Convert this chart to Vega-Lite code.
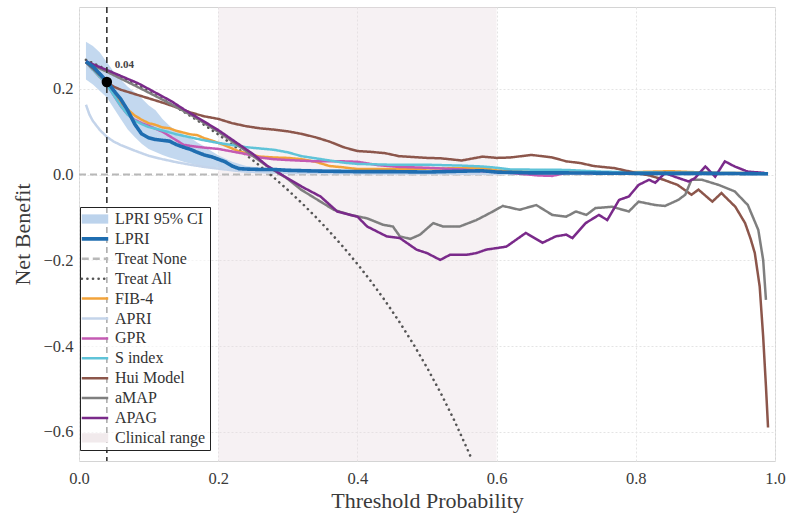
{
  "$schema": "https://vega.github.io/schema/vega-lite/v6.json",
  "width": 696,
  "height": 454,
  "autosize": "none",
  "padding": {"left": 79, "top": 7, "right": 13, "bottom": 52},
  "background": "white",
  "config": {
    "view": {"stroke": "#d4d4d4", "strokeWidth": 1},
    "axis": {
      "labelFont": "Liberation Serif", "labelFontSize": 16.5, "labelColor": "#3a3a3a",
      "titleFont": "Liberation Serif", "titleFontSize": 22, "titleFontWeight": "normal", "titleColor": "#3a3a3a",
      "domain": false, "ticks": false, "grid": true, "gridColor": "#e4e4e4", "gridDash": [2, 2], "gridWidth": 1
    },
    "legend": {
      "labelFont": "Liberation Serif", "labelFontSize": 16, "labelColor": "#333"
    }
  },
  "datasets": {
    "lpri": [
      {"s":"LPRI","x":0.01,"y":0.264},{"s":"LPRI","x":0.02,"y":0.252},{"s":"LPRI","x":0.03,"y":0.235},{"s":"LPRI","x":0.04,"y":0.218},
      {"s":"LPRI","x":0.05,"y":0.196},{"s":"LPRI","x":0.06,"y":0.176},{"s":"LPRI","x":0.07,"y":0.150},{"s":"LPRI","x":0.08,"y":0.118},
      {"s":"LPRI","x":0.09,"y":0.095},{"s":"LPRI","x":0.10,"y":0.086},{"s":"LPRI","x":0.11,"y":0.082},{"s":"LPRI","x":0.12,"y":0.080},
      {"s":"LPRI","x":0.13,"y":0.078},{"s":"LPRI","x":0.14,"y":0.070},{"s":"LPRI","x":0.15,"y":0.064},{"s":"LPRI","x":0.16,"y":0.059},
      {"s":"LPRI","x":0.17,"y":0.052},{"s":"LPRI","x":0.18,"y":0.046},{"s":"LPRI","x":0.19,"y":0.042},{"s":"LPRI","x":0.20,"y":0.036},
      {"s":"LPRI","x":0.21,"y":0.030},{"s":"LPRI","x":0.22,"y":0.020},{"s":"LPRI","x":0.23,"y":0.014},{"s":"LPRI","x":0.24,"y":0.013},
      {"s":"LPRI","x":0.26,"y":0.012},{"s":"LPRI","x":0.28,"y":0.012},{"s":"LPRI","x":0.30,"y":0.010},{"s":"LPRI","x":0.35,"y":0.008},
      {"s":"LPRI","x":0.40,"y":0.007},{"s":"LPRI","x":0.45,"y":0.007},{"s":"LPRI","x":0.50,"y":0.006},{"s":"LPRI","x":0.55,"y":0.008},
      {"s":"LPRI","x":0.58,"y":0.009},{"s":"LPRI","x":0.60,"y":0.006},{"s":"LPRI","x":0.65,"y":0.004},{"s":"LPRI","x":0.70,"y":0.004},
      {"s":"LPRI","x":0.80,"y":0.003},{"s":"LPRI","x":0.90,"y":0.003},{"s":"LPRI","x":0.99,"y":0.002}
    ],
    "ci": [
      {"x":0.01,"lo":0.222,"hi":0.310},{"x":0.02,"lo":0.210,"hi":0.300},{"x":0.03,"lo":0.195,"hi":0.285},{"x":0.04,"lo":0.180,"hi":0.262},
      {"x":0.05,"lo":0.155,"hi":0.240},{"x":0.06,"lo":0.130,"hi":0.222},{"x":0.07,"lo":0.105,"hi":0.205},{"x":0.08,"lo":0.088,"hi":0.192},
      {"x":0.09,"lo":0.072,"hi":0.178},{"x":0.10,"lo":0.060,"hi":0.162},{"x":0.11,"lo":0.053,"hi":0.150},{"x":0.12,"lo":0.046,"hi":0.130},
      {"x":0.13,"lo":0.040,"hi":0.114},{"x":0.14,"lo":0.035,"hi":0.102},{"x":0.15,"lo":0.030,"hi":0.094},{"x":0.16,"lo":0.026,"hi":0.086},
      {"x":0.17,"lo":0.022,"hi":0.075},{"x":0.18,"lo":0.019,"hi":0.066},{"x":0.19,"lo":0.017,"hi":0.055},{"x":0.20,"lo":0.016,"hi":0.045},
      {"x":0.22,"lo":0.012,"hi":0.030},{"x":0.24,"lo":0.008,"hi":0.020},{"x":0.26,"lo":0.004,"hi":0.016},{"x":0.30,"lo":0.002,"hi":0.014},
      {"x":0.40,"lo":0.001,"hi":0.012},{"x":0.60,"lo":0.000,"hi":0.011},{"x":0.80,"lo":0.000,"hi":0.008},{"x":0.99,"lo":0.000,"hi":0.005}
    ],
    "none": [
      {"s":"Treat None","x":0.0,"y":0},{"s":"Treat None","x":0.99,"y":0}
    ],
    "all": [
      {"s":"Treat All","x":0.01,"y":0.2677},{"s":"Treat All","x":0.04,"y":0.2448},{"s":"Treat All","x":0.06,"y":0.2287},
      {"s":"Treat All","x":0.08,"y":0.2120},{"s":"Treat All","x":0.10,"y":0.1944},{"s":"Treat All","x":0.12,"y":0.1761},
      {"s":"Treat All","x":0.14,"y":0.1570},{"s":"Treat All","x":0.16,"y":0.1369},{"s":"Treat All","x":0.18,"y":0.1159},
      {"s":"Treat All","x":0.20,"y":0.0938},{"s":"Treat All","x":0.22,"y":0.0705},{"s":"Treat All","x":0.24,"y":0.0461},
      {"s":"Treat All","x":0.26,"y":0.0203},{"s":"Treat All","x":0.28,"y":-0.0069},{"s":"Treat All","x":0.30,"y":-0.0357},
      {"s":"Treat All","x":0.32,"y":-0.0662},{"s":"Treat All","x":0.34,"y":-0.0985},{"s":"Treat All","x":0.36,"y":-0.1328},
      {"s":"Treat All","x":0.38,"y":-0.1694},{"s":"Treat All","x":0.40,"y":-0.2083},{"s":"Treat All","x":0.42,"y":-0.2500},
      {"s":"Treat All","x":0.44,"y":-0.2946},{"s":"Treat All","x":0.46,"y":-0.3426},{"s":"Treat All","x":0.48,"y":-0.3942},
      {"s":"Treat All","x":0.50,"y":-0.4500},{"s":"Treat All","x":0.52,"y":-0.5104},{"s":"Treat All","x":0.54,"y":-0.5761},
      {"s":"Treat All","x":0.56,"y":-0.6477},{"s":"Treat All","x":0.565,"y":-0.6667}
    ],
    "models": [
      {"s":"FIB-4","x":0.01,"y":0.262},{"s":"FIB-4","x":0.02,"y":0.245},{"s":"FIB-4","x":0.03,"y":0.228},{"s":"FIB-4","x":0.04,"y":0.212},
      {"s":"FIB-4","x":0.05,"y":0.190},{"s":"FIB-4","x":0.06,"y":0.168},{"s":"FIB-4","x":0.07,"y":0.152},{"s":"FIB-4","x":0.08,"y":0.138},
      {"s":"FIB-4","x":0.09,"y":0.128},{"s":"FIB-4","x":0.10,"y":0.120},{"s":"FIB-4","x":0.11,"y":0.116},{"s":"FIB-4","x":0.12,"y":0.110},
      {"s":"FIB-4","x":0.13,"y":0.108},{"s":"FIB-4","x":0.14,"y":0.102},{"s":"FIB-4","x":0.15,"y":0.098},{"s":"FIB-4","x":0.16,"y":0.094},
      {"s":"FIB-4","x":0.17,"y":0.092},{"s":"FIB-4","x":0.18,"y":0.085},{"s":"FIB-4","x":0.19,"y":0.080},{"s":"FIB-4","x":0.20,"y":0.074},
      {"s":"FIB-4","x":0.21,"y":0.068},{"s":"FIB-4","x":0.22,"y":0.061},{"s":"FIB-4","x":0.23,"y":0.054},{"s":"FIB-4","x":0.24,"y":0.050},
      {"s":"FIB-4","x":0.25,"y":0.046},{"s":"FIB-4","x":0.26,"y":0.042},{"s":"FIB-4","x":0.28,"y":0.040},{"s":"FIB-4","x":0.30,"y":0.039},
      {"s":"FIB-4","x":0.32,"y":0.036},{"s":"FIB-4","x":0.34,"y":0.030},{"s":"FIB-4","x":0.36,"y":0.020},{"s":"FIB-4","x":0.38,"y":0.017},
      {"s":"FIB-4","x":0.40,"y":0.013},{"s":"FIB-4","x":0.45,"y":0.013},{"s":"FIB-4","x":0.50,"y":0.014},{"s":"FIB-4","x":0.55,"y":0.015},
      {"s":"FIB-4","x":0.58,"y":0.016},{"s":"FIB-4","x":0.60,"y":0.010},{"s":"FIB-4","x":0.65,"y":0.006},{"s":"FIB-4","x":0.70,"y":0.005},
      {"s":"FIB-4","x":0.80,"y":0.006},{"s":"FIB-4","x":0.85,"y":0.008},{"s":"FIB-4","x":0.88,"y":0.006},{"s":"FIB-4","x":0.92,"y":0.004},
      {"s":"FIB-4","x":0.99,"y":0.003},

      {"s":"APRI","x":0.01,"y":0.163},{"s":"APRI","x":0.015,"y":0.140},{"s":"APRI","x":0.02,"y":0.125},{"s":"APRI","x":0.03,"y":0.104},
      {"s":"APRI","x":0.04,"y":0.088},{"s":"APRI","x":0.05,"y":0.077},{"s":"APRI","x":0.06,"y":0.069},{"s":"APRI","x":0.08,"y":0.056},
      {"s":"APRI","x":0.10,"y":0.044},{"s":"APRI","x":0.12,"y":0.036},{"s":"APRI","x":0.14,"y":0.029},{"s":"APRI","x":0.16,"y":0.023},
      {"s":"APRI","x":0.18,"y":0.018},{"s":"APRI","x":0.20,"y":0.014},{"s":"APRI","x":0.22,"y":0.010},{"s":"APRI","x":0.24,"y":0.007},
      {"s":"APRI","x":0.26,"y":0.006},{"s":"APRI","x":0.30,"y":0.004},{"s":"APRI","x":0.40,"y":0.003},{"s":"APRI","x":0.60,"y":0.002},
      {"s":"APRI","x":0.80,"y":0.002},{"s":"APRI","x":0.99,"y":0.001},

      {"s":"GPR","x":0.01,"y":0.262},{"s":"GPR","x":0.02,"y":0.245},{"s":"GPR","x":0.03,"y":0.228},{"s":"GPR","x":0.04,"y":0.210},
      {"s":"GPR","x":0.05,"y":0.185},{"s":"GPR","x":0.06,"y":0.160},{"s":"GPR","x":0.07,"y":0.140},{"s":"GPR","x":0.08,"y":0.128},
      {"s":"GPR","x":0.09,"y":0.120},{"s":"GPR","x":0.10,"y":0.114},{"s":"GPR","x":0.12,"y":0.100},{"s":"GPR","x":0.13,"y":0.090},
      {"s":"GPR","x":0.14,"y":0.080},{"s":"GPR","x":0.15,"y":0.070},{"s":"GPR","x":0.16,"y":0.067},{"s":"GPR","x":0.18,"y":0.063},
      {"s":"GPR","x":0.20,"y":0.060},{"s":"GPR","x":0.22,"y":0.054},{"s":"GPR","x":0.24,"y":0.048},{"s":"GPR","x":0.26,"y":0.040},
      {"s":"GPR","x":0.28,"y":0.036},{"s":"GPR","x":0.30,"y":0.034},{"s":"GPR","x":0.34,"y":0.031},{"s":"GPR","x":0.38,"y":0.031},
      {"s":"GPR","x":0.40,"y":0.030},{"s":"GPR","x":0.43,"y":0.022},{"s":"GPR","x":0.46,"y":0.018},{"s":"GPR","x":0.50,"y":0.016},
      {"s":"GPR","x":0.55,"y":0.012},{"s":"GPR","x":0.58,"y":0.008},{"s":"GPR","x":0.62,"y":0.004},{"s":"GPR","x":0.66,"y":-0.002},
      {"s":"GPR","x":0.68,"y":-0.003},{"s":"GPR","x":0.70,"y":0.004},{"s":"GPR","x":0.75,"y":0.003},{"s":"GPR","x":0.85,"y":0.003},
      {"s":"GPR","x":0.99,"y":0.002},

      {"s":"S index","x":0.01,"y":0.262},{"s":"S index","x":0.02,"y":0.245},{"s":"S index","x":0.03,"y":0.228},{"s":"S index","x":0.04,"y":0.210},
      {"s":"S index","x":0.05,"y":0.185},{"s":"S index","x":0.06,"y":0.160},{"s":"S index","x":0.07,"y":0.140},{"s":"S index","x":0.08,"y":0.126},
      {"s":"S index","x":0.09,"y":0.118},{"s":"S index","x":0.10,"y":0.111},{"s":"S index","x":0.12,"y":0.103},{"s":"S index","x":0.14,"y":0.094},
      {"s":"S index","x":0.16,"y":0.087},{"s":"S index","x":0.18,"y":0.080},{"s":"S index","x":0.20,"y":0.074},{"s":"S index","x":0.22,"y":0.069},
      {"s":"S index","x":0.24,"y":0.064},{"s":"S index","x":0.26,"y":0.061},{"s":"S index","x":0.28,"y":0.058},{"s":"S index","x":0.30,"y":0.052},
      {"s":"S index","x":0.32,"y":0.043},{"s":"S index","x":0.34,"y":0.038},{"s":"S index","x":0.36,"y":0.033},{"s":"S index","x":0.38,"y":0.028},
      {"s":"S index","x":0.40,"y":0.025},{"s":"S index","x":0.45,"y":0.023},{"s":"S index","x":0.50,"y":0.023},{"s":"S index","x":0.55,"y":0.021},
      {"s":"S index","x":0.58,"y":0.019},{"s":"S index","x":0.60,"y":0.016},{"s":"S index","x":0.62,"y":0.012},{"s":"S index","x":0.70,"y":0.011},
      {"s":"S index","x":0.75,"y":0.007},{"s":"S index","x":0.80,"y":0.005},{"s":"S index","x":0.99,"y":0.003},

      {"s":"Hui Model","x":0.01,"y":0.262},{"s":"Hui Model","x":0.02,"y":0.248},{"s":"Hui Model","x":0.03,"y":0.232},{"s":"Hui Model","x":0.04,"y":0.216},
      {"s":"Hui Model","x":0.05,"y":0.205},{"s":"Hui Model","x":0.06,"y":0.198},{"s":"Hui Model","x":0.08,"y":0.188},{"s":"Hui Model","x":0.10,"y":0.178},
      {"s":"Hui Model","x":0.12,"y":0.168},{"s":"Hui Model","x":0.14,"y":0.157},{"s":"Hui Model","x":0.16,"y":0.145},{"s":"Hui Model","x":0.18,"y":0.136},
      {"s":"Hui Model","x":0.20,"y":0.130},{"s":"Hui Model","x":0.22,"y":0.120},{"s":"Hui Model","x":0.24,"y":0.113},{"s":"Hui Model","x":0.26,"y":0.108},
      {"s":"Hui Model","x":0.28,"y":0.105},{"s":"Hui Model","x":0.30,"y":0.101},{"s":"Hui Model","x":0.32,"y":0.095},{"s":"Hui Model","x":0.34,"y":0.087},
      {"s":"Hui Model","x":0.36,"y":0.077},{"s":"Hui Model","x":0.38,"y":0.064},{"s":"Hui Model","x":0.40,"y":0.055},{"s":"Hui Model","x":0.42,"y":0.053},
      {"s":"Hui Model","x":0.44,"y":0.050},{"s":"Hui Model","x":0.46,"y":0.043},{"s":"Hui Model","x":0.48,"y":0.041},{"s":"Hui Model","x":0.50,"y":0.039},
      {"s":"Hui Model","x":0.52,"y":0.038},{"s":"Hui Model","x":0.55,"y":0.033},{"s":"Hui Model","x":0.58,"y":0.042},{"s":"Hui Model","x":0.60,"y":0.039},
      {"s":"Hui Model","x":0.62,"y":0.040},{"s":"Hui Model","x":0.65,"y":0.046},{"s":"Hui Model","x":0.68,"y":0.040},{"s":"Hui Model","x":0.70,"y":0.031},
      {"s":"Hui Model","x":0.72,"y":0.027},{"s":"Hui Model","x":0.74,"y":0.020},{"s":"Hui Model","x":0.77,"y":0.015},{"s":"Hui Model","x":0.80,"y":0.004},
      {"s":"Hui Model","x":0.82,"y":-0.002},{"s":"Hui Model","x":0.84,"y":-0.012},{"s":"Hui Model","x":0.86,"y":-0.024},{"s":"Hui Model","x":0.88,"y":-0.047},
      {"s":"Hui Model","x":0.89,"y":-0.035},{"s":"Hui Model","x":0.91,"y":-0.063},{"s":"Hui Model","x":0.923,"y":-0.043},{"s":"Hui Model","x":0.943,"y":-0.075},
      {"s":"Hui Model","x":0.957,"y":-0.113},{"s":"Hui Model","x":0.965,"y":-0.150},{"s":"Hui Model","x":0.971,"y":-0.183},{"s":"Hui Model","x":0.978,"y":-0.261},
      {"s":"Hui Model","x":0.983,"y":-0.378},{"s":"Hui Model","x":0.987,"y":-0.494},{"s":"Hui Model","x":0.99,"y":-0.590},

      {"s":"aMAP","x":0.01,"y":0.262},{"s":"aMAP","x":0.04,"y":0.240},{"s":"aMAP","x":0.08,"y":0.208},{"s":"aMAP","x":0.12,"y":0.175},
      {"s":"aMAP","x":0.16,"y":0.140},{"s":"aMAP","x":0.20,"y":0.100},{"s":"aMAP","x":0.24,"y":0.055},{"s":"aMAP","x":0.27,"y":0.020},
      {"s":"aMAP","x":0.30,"y":-0.010},{"s":"aMAP","x":0.319,"y":-0.035},{"s":"aMAP","x":0.343,"y":-0.059},{"s":"aMAP","x":0.366,"y":-0.082},
      {"s":"aMAP","x":0.39,"y":-0.094},{"s":"aMAP","x":0.414,"y":-0.102},{"s":"aMAP","x":0.437,"y":-0.117},{"s":"aMAP","x":0.451,"y":-0.121},
      {"s":"aMAP","x":0.461,"y":-0.144},{"s":"aMAP","x":0.476,"y":-0.150},{"s":"aMAP","x":0.49,"y":-0.140},{"s":"aMAP","x":0.509,"y":-0.113},
      {"s":"aMAP","x":0.523,"y":-0.121},{"s":"aMAP","x":0.547,"y":-0.121},{"s":"aMAP","x":0.571,"y":-0.106},{"s":"aMAP","x":0.59,"y":-0.090},
      {"s":"aMAP","x":0.609,"y":-0.073},{"s":"aMAP","x":0.633,"y":-0.082},{"s":"aMAP","x":0.657,"y":-0.071},{"s":"aMAP","x":0.68,"y":-0.094},
      {"s":"aMAP","x":0.70,"y":-0.098},{"s":"aMAP","x":0.714,"y":-0.086},{"s":"aMAP","x":0.729,"y":-0.094},{"s":"aMAP","x":0.742,"y":-0.078},
      {"s":"aMAP","x":0.766,"y":-0.075},{"s":"aMAP","x":0.79,"y":-0.086},{"s":"aMAP","x":0.804,"y":-0.063},{"s":"aMAP","x":0.828,"y":-0.071},
      {"s":"aMAP","x":0.842,"y":-0.073},{"s":"aMAP","x":0.861,"y":-0.059},{"s":"aMAP","x":0.871,"y":-0.047},{"s":"aMAP","x":0.88,"y":-0.012},
      {"s":"aMAP","x":0.895,"y":-0.012},{"s":"aMAP","x":0.919,"y":-0.024},{"s":"aMAP","x":0.942,"y":-0.039},{"s":"aMAP","x":0.961,"y":-0.071},
      {"s":"aMAP","x":0.976,"y":-0.129},{"s":"aMAP","x":0.983,"y":-0.199},{"s":"aMAP","x":0.987,"y":-0.292},

      {"s":"APAG","x":0.01,"y":0.264},{"s":"APAG","x":0.04,"y":0.244},{"s":"APAG","x":0.085,"y":0.213},{"s":"APAG","x":0.133,"y":0.171},
      {"s":"APAG","x":0.15,"y":0.153},{"s":"APAG","x":0.20,"y":0.104},{"s":"APAG","x":0.25,"y":0.048},{"s":"APAG","x":0.27,"y":0.021},
      {"s":"APAG","x":0.295,"y":-0.004},{"s":"APAG","x":0.32,"y":-0.028},{"s":"APAG","x":0.347,"y":-0.051},{"s":"APAG","x":0.371,"y":-0.086},
      {"s":"APAG","x":0.40,"y":-0.098},{"s":"APAG","x":0.414,"y":-0.121},{"s":"APAG","x":0.442,"y":-0.144},{"s":"APAG","x":0.461,"y":-0.148},
      {"s":"APAG","x":0.485,"y":-0.175},{"s":"APAG","x":0.50,"y":-0.183},{"s":"APAG","x":0.519,"y":-0.199},{"s":"APAG","x":0.533,"y":-0.187},
      {"s":"APAG","x":0.557,"y":-0.187},{"s":"APAG","x":0.571,"y":-0.183},{"s":"APAG","x":0.585,"y":-0.175},{"s":"APAG","x":0.614,"y":-0.168},
      {"s":"APAG","x":0.642,"y":-0.136},{"s":"APAG","x":0.666,"y":-0.159},{"s":"APAG","x":0.685,"y":-0.144},{"s":"APAG","x":0.70,"y":-0.140},
      {"s":"APAG","x":0.709,"y":-0.148},{"s":"APAG","x":0.728,"y":-0.113},{"s":"APAG","x":0.747,"y":-0.094},{"s":"APAG","x":0.759,"y":-0.106},
      {"s":"APAG","x":0.776,"y":-0.059},{"s":"APAG","x":0.79,"y":-0.051},{"s":"APAG","x":0.804,"y":-0.024},{"s":"APAG","x":0.819,"y":-0.012},
      {"s":"APAG","x":0.828,"y":-0.019},{"s":"APAG","x":0.842,"y":0.004},{"s":"APAG","x":0.856,"y":-0.005},{"s":"APAG","x":0.876,"y":-0.016},
      {"s":"APAG","x":0.885,"y":-0.008},{"s":"APAG","x":0.90,"y":0.019},{"s":"APAG","x":0.914,"y":-0.005},{"s":"APAG","x":0.928,"y":0.031},
      {"s":"APAG","x":0.942,"y":0.019},{"s":"APAG","x":0.961,"y":0.007},{"s":"APAG","x":0.985,"y":0.004}
    ]
  },
  "layer": [
    {
      "data": {"values": [{"a": 0.2, "b": 0.6}]},
      "mark": {"type": "rect", "color": "#e8dde0", "opacity": 0.4},
      "encoding": {"x": {"field": "a", "type": "quantitative"}, "x2": {"field": "b"}}
    },
    {
      "data": {"name": "ci"},
      "mark": {"type": "area", "color": "#b8d1ec", "opacity": 0.85},
      "encoding": {
        "x": {"field": "x", "type": "quantitative"},
        "y": {"field": "lo", "type": "quantitative"},
        "y2": {"field": "hi"}
      }
    },
    {
      "data": {"name": "none"},
      "mark": {"type": "line", "clip": true, "strokeWidth": 2},
      "encoding": {
        "x": {"field": "x", "type": "quantitative"},
        "y": {"field": "y", "type": "quantitative"},
        "color": {"field": "s", "type": "nominal"},
        "strokeDash": {"field": "s", "type": "nominal"}
      }
    },
    {
      "data": {"name": "all"},
      "mark": {"type": "line", "clip": true, "strokeWidth": 2.6, "strokeCap": "round"},
      "encoding": {
        "x": {"field": "x", "type": "quantitative"},
        "y": {"field": "y", "type": "quantitative"},
        "color": {"field": "s", "type": "nominal"},
        "strokeDash": {"field": "s", "type": "nominal"}
      }
    },
    {
      "data": {"name": "models"},
      "mark": {"type": "line", "clip": true, "strokeWidth": 2.5},
      "encoding": {
        "x": {"field": "x", "type": "quantitative"},
        "y": {"field": "y", "type": "quantitative"},
        "color": {"field": "s", "type": "nominal"},
        "strokeDash": {"field": "s", "type": "nominal"}
      }
    },
    {
      "data": {"name": "lpri"},
      "mark": {"type": "line", "clip": true, "strokeWidth": 3.6},
      "encoding": {
        "x": {
          "field": "x", "type": "quantitative",
          "scale": {"domain": [0, 1], "nice": false, "zero": false},
          "axis": {"title": "Threshold Probability", "values": [0, 0.2, 0.4, 0.6, 0.8, 1.0], "format": ".1f", "labelFlush": false, "labelPadding": 9, "titlePadding": 4}
        },
        "y": {
          "field": "y", "type": "quantitative",
          "scale": {"domain": [-0.668, 0.391], "nice": false, "zero": false},
          "axis": {"title": "Net Benefit", "values": [-0.6, -0.4, -0.2, 0, 0.2], "format": ".1f", "labelPadding": 6, "titlePadding": 9}
        },
        "color": {
          "field": "s", "type": "nominal",
          "scale": {
            "domain": ["LPRI 95% CI", "LPRI", "Treat None", "Treat All", "FIB-4", "APRI", "GPR", "S index", "Hui Model", "aMAP", "APAG", "Clinical range"],
            "range": ["#bcd3ec", "#1f6db0", "#b8b8b8", "#555555", "#f2a33a", "#c4d4ea", "#c45ab3", "#5fc3d8", "#8c564b", "#7f7f7f", "#7a2a8a", "#f1eaec"]
          },
          "legend": {
            "title": null, "orient": "none", "legendX": 1, "legendY": 200,
            "strokeColor": "#222", "fillColor": "rgba(255,255,255,0.6)", "padding": 4, "cornerRadius": 0,
            "symbolType": "stroke", "symbolSize": 700, "symbolOffset": 3, "labelOffset": 12, "rowPadding": 3.9,
            "encode": {
              "symbols": {
                "update": {
                  "shape": {"signal": "datum.value === 'LPRI 95% CI' || datum.value === 'Clinical range' ? 'M-1,-0.35H1V0.35H-1Z' : 'stroke'"},
                  "fill": {"signal": "datum.value === 'LPRI 95% CI' ? '#bcd3ec' : datum.value === 'Clinical range' ? '#f1eaec' : 'transparent'"},
                  "strokeWidth": {"signal": "datum.value === 'LPRI 95% CI' || datum.value === 'Clinical range' ? 0 : datum.value === 'LPRI' ? 3.6 : datum.value === 'Treat All' ? 2.6 : 2.5"},
                  "strokeCap": {"signal": "datum.value === 'Treat All' ? 'round' : 'butt'"}
                }
              }
            }
          }
        },
        "strokeDash": {
          "field": "s", "type": "nominal",
          "scale": {
            "domain": ["LPRI 95% CI", "LPRI", "Treat None", "Treat All", "FIB-4", "APRI", "GPR", "S index", "Hui Model", "aMAP", "APAG", "Clinical range"],
            "range": [[1, 0], [1, 0], [7, 4], [0.1, 5.5], [1, 0], [1, 0], [1, 0], [1, 0], [1, 0], [1, 0], [1, 0], [1, 0]]
          }
        }
      }
    },
    {
      "data": {"values": [{"x": 0.04}]},
      "mark": {"type": "rule", "color": "#333", "strokeDash": [6, 4], "strokeWidth": 1.6},
      "encoding": {"x": {"field": "x", "type": "quantitative"}}
    },
    {
      "data": {"values": [{"x": 0.04, "y": 0.216}]},
      "mark": {"type": "circle", "color": "black", "size": 110, "opacity": 1},
      "encoding": {"x": {"field": "x", "type": "quantitative"}, "y": {"field": "y", "type": "quantitative"}}
    },
    {
      "data": {"values": [{"x": 0.04, "y": 0.256, "label": "0.04"}]},
      "mark": {"type": "text", "align": "left", "dx": 8, "font": "Liberation Serif", "fontWeight": "bold", "fontSize": 11, "color": "#444"},
      "encoding": {"x": {"field": "x", "type": "quantitative"}, "y": {"field": "y", "type": "quantitative"}, "text": {"field": "label"}}
    }
  ]
}
